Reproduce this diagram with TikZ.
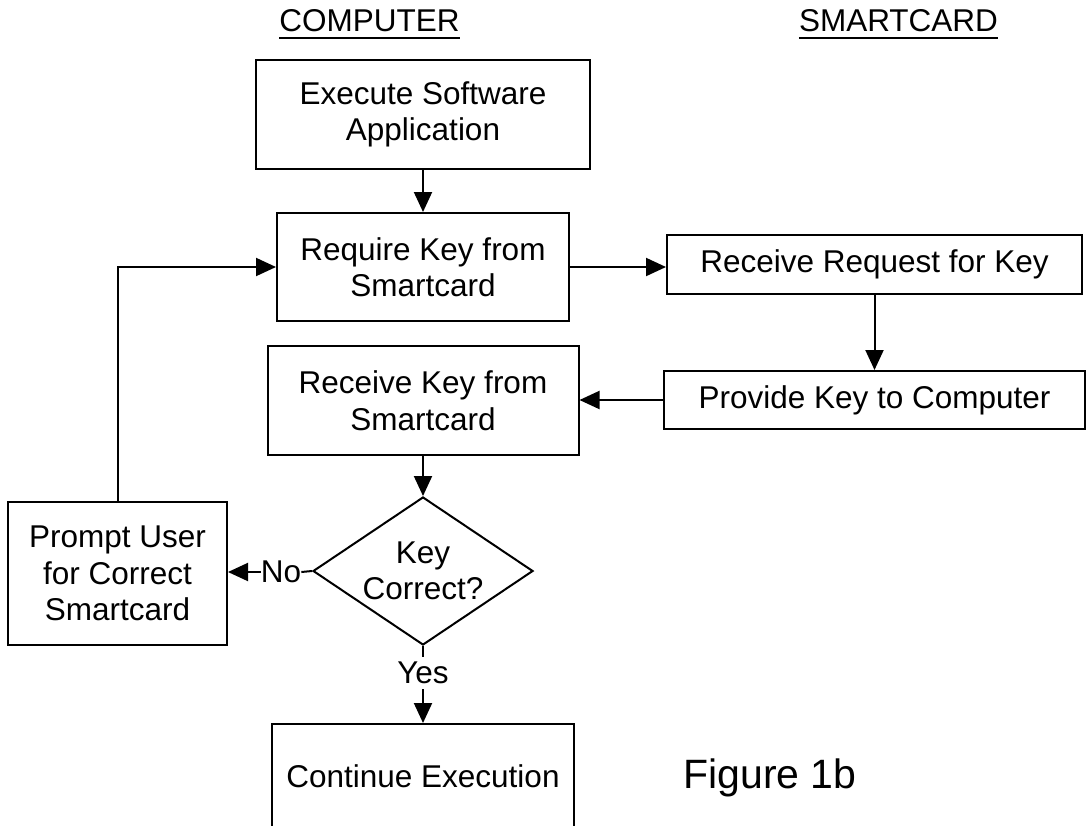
\documentclass[tikz,border=0pt]{standalone}
\usepackage{fontspec}
\setmainfont{Liberation Sans}
\usetikzlibrary{arrows.meta,shapes.geometric}
\tikzset{
  box/.style={draw, line width=2pt, rectangle, align=center, inner sep=0pt},
  conn/.style={line width=2pt},
  arr/.style={line width=2pt, -{Triangle[length=20pt,width=18pt]}},
  txt/.style={inner sep=0pt, font=\fontsize{31.5}{36.5}\selectfont},
}
\begin{document}
\begin{tikzpicture}[x=1pt, y=-1pt, font=\fontsize{31.5}{36.5}\selectfont]
\useasboundingbox (0,0) rectangle (1086,825);
\clip (0,0) rectangle (1086,825);
% titles
\node[txt, anchor=base] (comp) at (369.5,31) {COMPUTER};
\draw[line width=1.6pt] ([yshift=-7pt]comp.base west) -- ([yshift=-7pt]comp.base east);
\node[txt, anchor=base] (smart) at (898.5,31) {SMARTCARD};
\draw[line width=1.6pt] ([yshift=-7pt]smart.base west) -- ([yshift=-7pt]smart.base east);
% boxes
\node[box, minimum width=334, minimum height=109] (exec) at (423,114.5) {Execute Software\\Application};
\node[box, minimum width=292, minimum height=108] (req) at (423,267) {Require Key from\\Smartcard};
\node[box, minimum width=415, minimum height=59] (rreq) at (874.5,264.5) {Receive Request for Key};
\node[box, minimum width=421, minimum height=58] (prov) at (874.5,400) {Provide Key to Computer};
\node[box, minimum width=311, minimum height=109] (rkey) at (423,400.5) {Receive Key from\\Smartcard};
\node[draw, line width=2pt, diamond, minimum width=220, minimum height=148, inner sep=0pt,
      label={[align=center, txt]center:Key\\Correct?}] (dia) at (423,571) {};
\node[box, minimum width=219, minimum height=143] (prompt) at (117.5,573.5) {Prompt User\\for Correct\\Smartcard};
\node[txt] (no) at (281,572) {No};
\node[txt, inner sep=5pt] (yes) at (423,673) {Yes};
\node[box, minimum width=302, minimum height=104] (cont) at (423,776) {Continue Execution};
\node[inner sep=0pt, font=\fontsize{41}{48}\selectfont] (fig) at (770,778) {Figure 1b};
% connectors
\draw[arr] (exec.south) -- (req.north);
\draw[arr] (req.east) -- (req.east -| rreq.west);
\draw[arr] (rreq.south) -- (prov.north);
\draw[arr] (prov.west) -- (prov.west -| rkey.east);
\draw[arr] (rkey.south) -- (dia.north);
\draw[conn] (dia.west) -- (no.east);
\draw[arr] (no.west) -- (no.west -| prompt.east);
\draw[arr] (prompt.north) -- (prompt.north |- req.west) -- (req.west);
\draw[conn] (dia.south) -- (yes.north);
\draw[arr] (yes.south) -- (cont.north);
\end{tikzpicture}
\end{document}
